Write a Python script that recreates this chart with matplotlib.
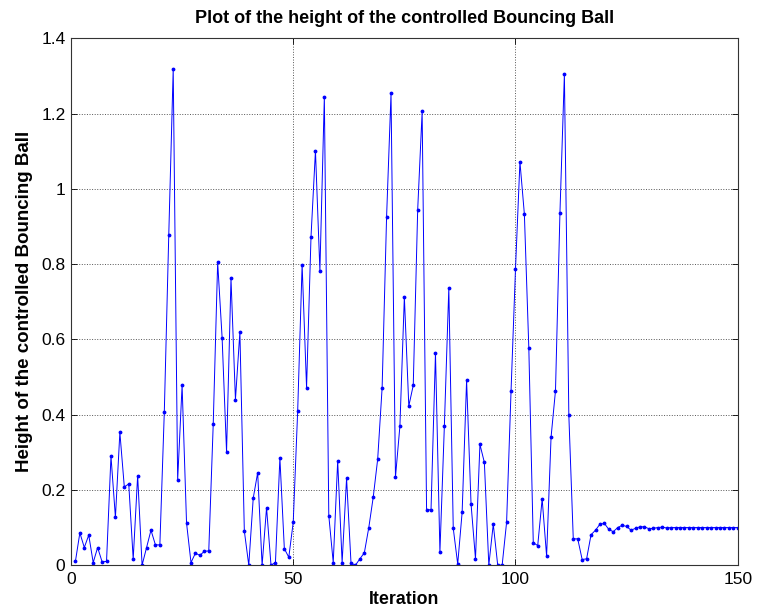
import matplotlib
matplotlib.use("Agg")
import matplotlib.pyplot as plt
from matplotlib.ticker import FormatStrFormatter

plt.rcParams["font.family"] = ["Liberation Sans", "DejaVu Sans"]

# height of the ball at each iteration
iterations = list(range(1, 151))
height = [
    0.010, 0.086, 0.047, 0.080, 0.007, 0.047, 0.009, 0.010, 0.290, 0.127,
    0.353, 0.208, 0.216, 0.016, 0.238, 0.000, 0.047, 0.093, 0.054, 0.054,
    0.408, 0.877, 1.319, 0.226, 0.478, 0.112, 0.007, 0.032, 0.026, 0.037,
    0.038, 0.374, 0.805, 0.605, 0.301, 0.762, 0.440, 0.620, 0.091, 0.000,
    0.178, 0.246, 0.000, 0.153, 0.000, 0.007, 0.285, 0.044, 0.021, 0.114,
    0.409, 0.799, 0.472, 0.873, 1.102, 0.782, 1.245, 0.132, 0.007, 0.277,
    0.007, 0.231, 0.005, 0.000, 0.017, 0.033, 0.100, 0.181, 0.282, 0.472,
    0.925, 1.254, 0.234, 0.370, 0.713, 0.423, 0.478, 0.945, 1.206, 0.146,
    0.148, 0.564, 0.035, 0.370, 0.736, 0.098, 0.003, 0.141, 0.491, 0.163,
    0.017, 0.321, 0.273, 0.000, 0.109, 0.000, 0.000, 0.114, 0.463, 0.787,
    1.072, 0.933, 0.577, 0.060, 0.052, 0.176, 0.024, 0.340, 0.464, 0.936,
    1.305, 0.399, 0.070, 0.070, 0.015, 0.017, 0.081, 0.093, 0.109, 0.111,
    0.095, 0.089, 0.100, 0.106, 0.103, 0.093, 0.098, 0.102, 0.102, 0.097,
    0.098, 0.100, 0.101, 0.099, 0.100, 0.100, 0.100, 0.100, 0.100, 0.100,
    0.100, 0.100, 0.100, 0.100, 0.100, 0.100, 0.100, 0.100, 0.100, 0.100,
]

x_ticks = [0, 50, 100, 150]
y_ticks = [0, 0.2, 0.4, 0.6, 0.8, 1.0, 1.2, 1.4]

fig = plt.figure(figsize=(7.59, 6.15), dpi=100)
ax = fig.add_axes([0.0935, 0.081, 0.8785, 0.8565])

ax.plot(iterations, height, color="#0000ff", linewidth=0.7,
        marker=".", markersize=3.5)

ax.set_xlim(0, 150)
ax.set_ylim(0, 1.4)
ax.set_xticks(x_ticks)
ax.set_yticks(y_ticks)
ax.yaxis.set_major_formatter(FormatStrFormatter("%g"))
ax.tick_params(direction="in", length=4, width=0.6, labelsize=12.5,
               top=True, right=True, pad=4)
ax.tick_params(axis="x", pad=5)
ax.grid(True, linestyle=":", color="#555555", linewidth=0.7)
for s in ax.spines.values():
    s.set_linewidth(0.8)
    s.set_color("#333333")

ax.set_title("Plot of the height of the controlled Bouncing Ball",
             fontsize=13, fontweight="bold", pad=11)
ax.set_xlabel("Iteration", fontsize=12.8, fontweight="bold", labelpad=3)
ax.set_ylabel("Height of the controlled Bouncing Ball", fontsize=13.5,
              fontweight="bold", labelpad=6)

fig.savefig("out.png", dpi=100)
